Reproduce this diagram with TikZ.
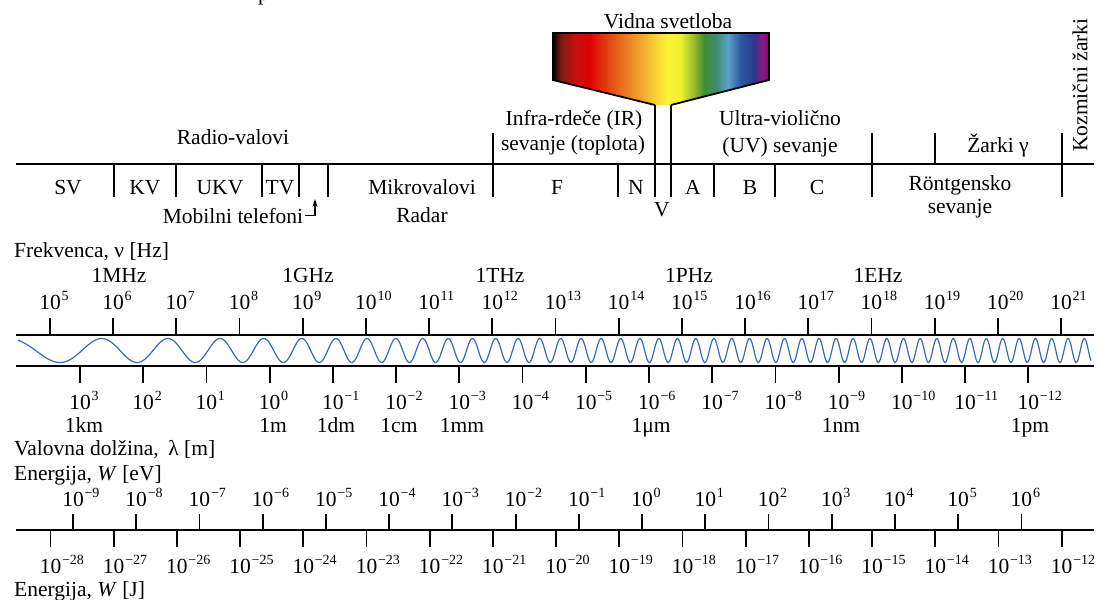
\documentclass[tikz,border=0pt]{standalone}
\usepackage{fontspec}
\setmainfont{Liberation Serif}
\usetikzlibrary{arrows.meta}
\definecolor{wavec}{HTML}{3A68BE}
\definecolor{sa}{HTML}{7A1A10}
\definecolor{sb}{HTML}{C81010}
\definecolor{sc}{HTML}{E00000}
\definecolor{sd}{HTML}{E24A12}
\definecolor{se}{HTML}{EC8A25}
\definecolor{sf}{HTML}{F4C232}
\definecolor{sg}{HTML}{FBF534}
\definecolor{sh}{HTML}{EEF030}
\definecolor{si}{HTML}{9CBB2A}
\definecolor{sj}{HTML}{3E8E34}
\definecolor{sk}{HTML}{3F8A7A}
\definecolor{sl}{HTML}{5AA2C6}
\definecolor{sm}{HTML}{2A56A0}
\definecolor{sn}{HTML}{2F3A8A}
\definecolor{so}{HTML}{8D1585}
\definecolor{sp}{HTML}{7A0A70}
\pgfdeclarehorizontalshading{visspec}{100bp}{color(0bp)=(black); color(25bp)=(black);
  color(26.75bp)=(sa); color(30bp)=(sb); color(33.5bp)=(sc); color(38bp)=(sd);
  color(43bp)=(se); color(47.5bp)=(sf); color(51.5bp)=(sg); color(54.5bp)=(sh);
  color(57.5bp)=(si); color(60bp)=(sj); color(63bp)=(sk); color(65.5bp)=(sl);
  color(68.5bp)=(sm); color(71.5bp)=(sn); color(73.5bp)=(so); color(75bp)=(sp);
  color(100bp)=(sp)}
\newcommand\fs{\fontsize{21.5pt}{24pt}\selectfont}
\newcommand\supx[1]{\kern0.8pt\raisebox{8.5pt}{\fontsize{14pt}{14pt}\selectfont #1}}
\newcommand\pten[1]{\makebox[0pt]{\phantom{\supx{#1}}10\supx{#1}}}
\newcommand\sgn[1]{\ifnum#1<0 −\number-#1\else#1\fi}
\begin{document}
\begin{tikzpicture}[x=1pt,y=-1pt,
  lab/.style={font=\fs, inner sep=0pt},
  axisline/.style={line width=1.8pt},
  tickmark/.style={line width=1.8pt},
  wave/.style={draw=wavec, line width=1.2pt},
  declare function={g(\t)=\t+180*ln(16+61*exp(-(\t-100)/180))-860;}]
\useasboundingbox (0,0) rectangle (1101,600);

% cut-off title descender
\node[lab, anchor=base west] (title) at (258,0) {p};

% ---------- visible spectrum ----------
\shade[shading=visspec] (553,33) -- (769,33) -- (769,80) -- (671,105) -- (655,105) -- (553,80) -- cycle;
\draw[axisline, line join=miter] (655,105) -- (553,80) -- (553,33) -- (769,33) -- (769,80) -- (671,105);
\node[lab, anchor=base] (vidna) at (668,28) {Vidna svetloba};

% ---------- band line ----------
\draw[axisline] (16,164) -- (1094,164);
\foreach \x in {114,176,262,299,328,493,618,714,775,872,1062}
  \draw[tickmark] (\x,164) -- (\x,197);
\foreach \x in {493,872,935,1062}
  \draw[tickmark] (\x,133) -- (\x,164);
\draw[tickmark] (655,105) -- (655,197);
\draw[tickmark] (671,105) -- (671,197);

\node[lab, anchor=base] (radio) at (233,144) {Radio-valovi};
\node[lab, anchor=base] (sv) at (68,194) {SV};
\node[lab, anchor=base] (kv) at (145,194) {KV};
\node[lab, anchor=base] (ukv) at (220,194) {UKV};
\node[lab, anchor=base] (tv) at (280,194) {TV};
\node[lab, anchor=base] (mob) at (233,223) {Mobilni telefoni};
\coordinate (mobtip) at (315,199);
\draw[line width=1.1pt, -{Stealth[length=8pt,width=5pt]}] (mob.east) ++(2,0) -| (mobtip);
\node[lab, anchor=base] (mikro) at (422,194) {Mikrovalovi};
\node[lab, anchor=base] (radar) at (422,222) {Radar};
\node[lab, anchor=base] (ir1) at (574,125) {Infra-rdeče (IR)};
\node[lab, anchor=base] (ir2) at (573,150) {sevanje (toplota)};
\node[lab, anchor=base] (fband) at (557,194) {F};
\node[lab, anchor=base] (nband) at (636,194) {N};
\node[lab, anchor=base] (vband) at (662,216) {V};
\node[lab, anchor=base] (aband) at (693,194) {A};
\node[lab, anchor=base] (bband) at (750,194) {B};
\node[lab, anchor=base] (cband) at (817,194) {C};
\node[lab, anchor=base] (uv1) at (780,125) {Ultra-violično};
\node[lab, anchor=base] (uv2) at (780,152) {(UV) sevanje};
\node[lab, anchor=base] (rtg1) at (960,190) {Röntgensko};
\node[lab, anchor=base] (rtg2) at (960,213) {sevanje};
\node[lab, anchor=base] (gamma) at (998,152) {Žarki γ};
\node[lab, rotate=90] (kozm) at (1080,85) {Kozmični žarki};

% ---------- frequency / wavelength ----------
\node[lab, anchor=base west] (freqlab) at (14,257) {Frekvenca, ν [Hz]};
\draw[axisline] (16,335) -- (1094,335);
\draw[axisline] (16,366) -- (1094,366);
\foreach \n in {5,...,21}{
  \pgfmathsetmacro\xx{50+63.19*(\n-5)}
  \draw[tickmark] (\xx,318) -- (\xx,335);
  \node[lab, anchor=base] (f\n) at (\xx,309) {\pten{\n}};
}
\node[lab, anchor=base] (mhz) at (119,282) {1MHz};
\node[lab, anchor=base] (ghz) at (308,282) {1GHz};
\node[lab, anchor=base] (thz) at (500,282) {1THz};
\node[lab, anchor=base] (phz) at (689,282) {1PHz};
\node[lab, anchor=base] (ehz) at (878,282) {1EHz};

\pgfmathsetmacro\off{0.5-g(60)/16}
\draw[wave] plot[domain=18:1091, samples=1400, variable=\t]
  (\t, {350.5-12*cos(360*frac(g(\t)/16+\off))});

\foreach \k [count=\i from 0] in {3,2,...,-12}{
  \pgfmathsetmacro\xx{80+63.22*\i}
  \draw[tickmark] (\xx,366) -- (\xx,383);
  \node[lab, anchor=base] (l\i) at (\xx,409) {\pten{\sgn{\k}}};
}
\node[lab, anchor=base] (km) at (84,432) {1km};
\node[lab, anchor=base] (m) at (273,432) {1m};
\node[lab, anchor=base] (dm) at (336,432) {1dm};
\node[lab, anchor=base] (cm) at (399,432) {1cm};
\node[lab, anchor=base] (mm) at (462,432) {1mm};
\node[lab, anchor=base] (um) at (651,432) {1μm};
\node[lab, anchor=base] (nm) at (841,432) {1nm};
\node[lab, anchor=base] (pm) at (1030,432) {1pm};
\node[lab, anchor=base west] (wavelab) at (14,455) {Valovna dolžina,\hspace{0.45em}λ [m]};

% ---------- energy ----------
\node[lab, anchor=base west] (evlab) at (14,480) {Energija, \textit{W} [eV]};
\draw[axisline] (16,530) -- (1094,530);
\foreach \k [count=\i from 0] in {-9,-8,...,6}{
  \pgfmathsetmacro\xx{73+63.23*\i}
  \draw[tickmark] (\xx,514) -- (\xx,530);
  \node[lab, anchor=base] (e\i) at (\xx,506) {\pten{\sgn{\k}}};
}
\foreach \k [count=\i from 0] in {-28,-27,...,-12}{
  \pgfmathsetmacro\xx{50.5+63.2*\i}
  \draw[tickmark] (\xx,530) -- (\xx,547);
  \node[lab, anchor=base] (j\i) at (\xx,573) {\pten{\sgn{\k}}};
}
\node[lab, anchor=base west] (jlab) at (14,596) {Energija, \textit{W} [J]};
\end{tikzpicture}
\end{document}
